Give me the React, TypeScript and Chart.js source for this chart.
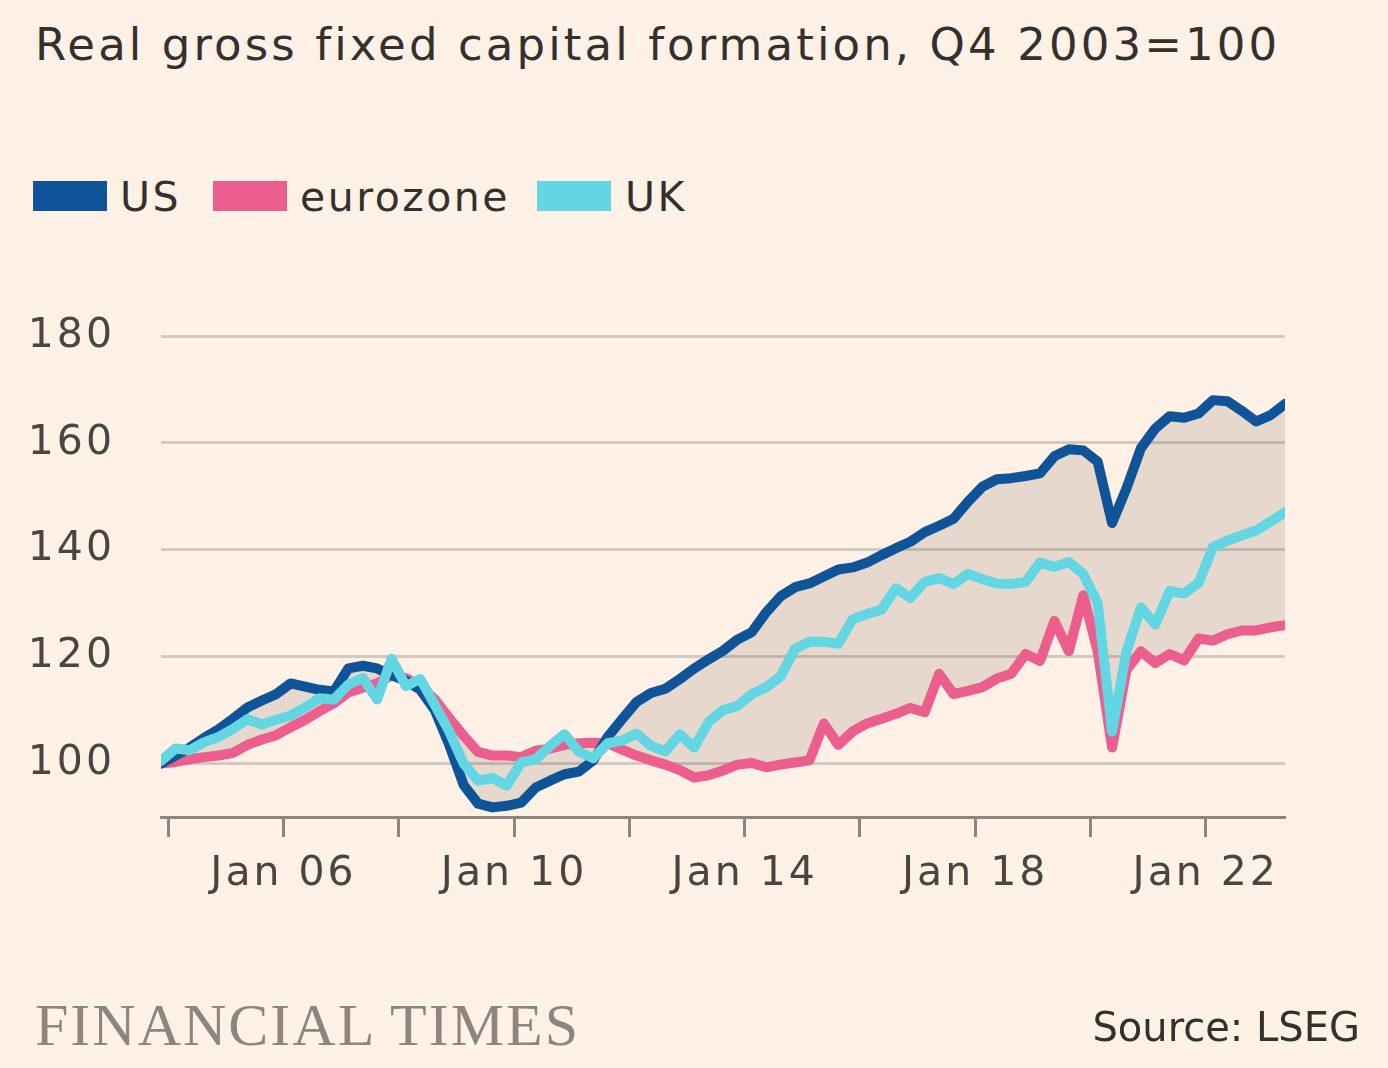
import React, { useEffect, useRef } from 'react';
import { Chart, registerables } from 'chart.js';

Chart.register(...registerables);

// ---- Data (quarterly, Q4 2003 = 100) ----
const firstYear = 2003;
const firstQuarter = 4;
const quarterCount = 79; // Q4 2003 .. Q2 2023

const usValues = [
  100, 101.5, 103, 104.8, 106.4, 108.4, 110.5, 111.8, 113, 115,
  114.4, 113.8, 113.5, 117.8, 118.3, 117.8, 116.5, 115.5, 113.8, 110,
  103.5, 96, 92.5, 91.8, 92.1, 92.7, 95.5, 96.8, 98, 98.5,
  100.6, 105, 108.3, 111.5, 113.2, 114, 115.8, 117.8, 119.5, 121.1,
  123.2, 124.6, 128.3, 131.3, 133, 133.7, 135, 136.3, 136.7, 137.6,
  139, 140.3, 141.5, 143.3, 144.5, 145.8, 149, 151.8, 153.2, 153.4,
  153.8, 154.3, 157.5, 158.8, 158.6, 156.5, 145, 151.5, 159, 162.7,
  165, 164.7, 165.5, 168, 167.8, 166, 164, 165.2, 167.3,
];

const eurozoneValues = [
  100, 100.3, 100.8, 101.2, 101.5, 102, 103.5, 104.5, 105.3, 106.8,
  108.2, 109.8, 111.3, 113.3, 114.2, 115, 116.5, 116, 114.5, 112,
  108.5, 105.2, 102.2, 101.5, 101.5, 101.2, 102.4, 102.8, 103.5, 103.8,
  103.9, 103.8, 102.6, 101.5, 100.6, 99.8, 98.8, 97.4, 97.8, 98.7,
  99.8, 100.1, 99.3, 99.8, 100.2, 100.6, 107.5, 103.5, 106, 107.5,
  108.4, 109.3, 110.4, 109.6, 116.8, 113, 113.6, 114.3, 115.9, 116.8,
  120.5, 119.2, 126.7, 121, 131.5, 121, 103, 117.5, 121, 118.8,
  120.5, 119.3, 123.4, 123, 124.2, 124.9, 124.9, 125.5, 125.9,
];

const ukValues = [
  100.5, 102.8, 102.5, 104, 105, 106.5, 108.3, 107.3, 108.2, 109,
  110.5, 112.2, 112, 114.8, 116, 112, 119.6, 114.5, 115.8, 111,
  106, 100, 96.8, 97.3, 95.9, 100.2, 100.8, 103.3, 105.5, 102.2,
  101, 103.8, 104.3, 105.6, 103.3, 102.3, 105.5, 103, 107.8, 110,
  110.8, 113, 114.3, 116.3, 121.5, 122.8, 122.8, 122.4, 127, 128,
  128.8, 132.8, 131, 134, 134.7, 133.6, 135.5, 134.5, 133.7, 133.6,
  134, 137.6, 136.8, 137.7, 135.5, 130, 106, 121, 129.2, 126,
  132.3, 131.8, 133.8, 140.5, 141.7, 142.7, 143.6, 145.3, 147,
];

const seriesNames = ['US', 'eurozone', 'UK'];
const xTickYears = [2004, 2006, 2008, 2010, 2012, 2014, 2016, 2018, 2020, 2022];
const xLabelYears = [2006, 2010, 2014, 2018, 2022];
const yTicks = [100, 120, 140, 160, 180];
const yMin = 90;
const yMax = 180;

// quarter -> decimal year at mid-quarter
const quarterPositions: number[] = [];
for (let k = 0; k < quarterCount; k++) {
  const qIndex = firstQuarter - 1 + k;
  const year = firstYear + Math.floor(qIndex / 4);
  const q = qIndex % 4;
  quarterPositions.push(year + q * 0.25 + 0.125);
}

// ---- Styles ----
const BG = '#FFF1E5';
const US_C = '#0F5499';
const EZ_C = '#EB5E8D';
const UK_C = '#62D6E2';
const SHADE = 'rgba(102, 90, 80, 0.16)';
const GRID_C = '#D3C9BF';
const AXIS_C = '#8C857F';
const TEXT_C = '#33302E';
const TICK_C = '#4A4542';
const FONT = '"DejaVu Sans", "Open Sans", sans-serif';

const W = 1388;
const H = 1068;

export default function App() {
  const ref = useRef<HTMLCanvasElement>(null);

  useEffect(() => {
    document.body.style.margin = '0';
    document.body.style.background = BG;
    const canvas = ref.current;
    if (!canvas) return;
    const pts = (vals: number[]) => vals.map((v, i) => ({ x: quarterPositions[i], y: v }));

    const spacingPlugin = {
      id: 'letterSpacing',
      beforeDraw(chart: any) {
        try { chart.ctx.letterSpacing = '3px'; } catch (e) { /* ignore */ }
      },
    };

    const lineStyle = {
      borderWidth: 10,
      pointRadius: 0,
      tension: 0,
      borderJoinStyle: 'round',
      borderCapStyle: 'round',
    };

    const chart = new Chart(canvas, {
      type: 'line',
      data: {
        datasets: [
          {
            label: seriesNames[0],
            data: pts(usValues),
            borderColor: US_C,
            backgroundColor: US_C,
            ...lineStyle,
            fill: { target: 1, above: SHADE, below: SHADE },
            order: 1,
          },
          {
            label: seriesNames[1],
            data: pts(eurozoneValues),
            borderColor: EZ_C,
            backgroundColor: EZ_C,
            ...lineStyle,
            fill: false,
            order: 2,
          },
          {
            label: seriesNames[2],
            data: pts(ukValues),
            borderColor: UK_C,
            backgroundColor: UK_C,
            ...lineStyle,
            fill: false,
            order: 0,
          },
        ],
      } as any,
      options: {
        animation: false,
        responsive: false,
        maintainAspectRatio: false,
        layout: { padding: { left: 0, right: 103, top: 336, bottom: 0 } },
        plugins: {
          legend: { display: false },
          tooltip: { enabled: false },
          title: { display: false },
          filler: { drawTime: 'beforeDatasetsDraw' },
        } as any,
        scales: {
          x: {
            type: 'linear',
            min: quarterPositions[0],
            max: quarterPositions[quarterPositions.length - 1],
            afterBuildTicks: (s: any) => {
              s.ticks = xTickYears.map((v) => ({ value: v }));
            },
            afterFit: (s: any) => {
              s.height = H - 817;
            },
            grid: {
              drawOnChartArea: false,
              drawTicks: true,
              tickLength: 20,
              tickWidth: 3,
              tickColor: AXIS_C,
            },
            border: { display: true, color: AXIS_C, width: 3 },
            ticks: {
              autoSkip: false,
              maxRotation: 0,
              minRotation: 0,
              padding: 13,
              color: TICK_C,
              font: { family: FONT, size: 41 },
              callback: (v: any) =>
                xLabelYears.includes(Number(v)) ? 'Jan ' + String(v).slice(2) : '',
            },
          },
          y: {
            type: 'linear',
            min: yMin,
            max: yMax,
            afterBuildTicks: (s: any) => {
              s.ticks = yTicks.map((v) => ({ value: v }));
            },
            afterFit: (s: any) => {
              s.width = 161;
            },
            grid: { color: GRID_C, lineWidth: 3, drawTicks: false },
            border: { display: false },
            ticks: {
              padding: 46,
              color: TICK_C,
              font: { family: FONT, size: 41 },
            },
          },
        },
      } as any,
      plugins: [spacingPlugin],
    });
    return () => chart.destroy();
  }, []);

  const legendItems = [
    { name: seriesNames[0], color: US_C, sw: 33, tx: 120 },
    { name: seriesNames[1], color: EZ_C, sw: 213, tx: 300 },
    { name: seriesNames[2], color: UK_C, sw: 537, tx: 625 },
  ];

  return (
    <div style={{ position: 'relative', width: W, height: H, background: BG, overflow: 'hidden', fontFamily: FONT }}>
      <div
        style={{
          position: 'absolute', left: 35, top: 22, fontSize: 45, lineHeight: 1,
          color: TEXT_C, whiteSpace: 'nowrap', letterSpacing: '3.1px',
        }}
      >
        Real gross fixed capital formation, Q4 2003=100
      </div>
      {legendItems.map((it) => (
        <React.Fragment key={it.name}>
          <div style={{ position: 'absolute', left: it.sw, top: 181, width: 74, height: 30, background: it.color }} />
          <div
            style={{
              position: 'absolute', left: it.tx, top: 177, fontSize: 41, lineHeight: 1,
              color: TEXT_C, whiteSpace: 'nowrap', letterSpacing: '2.5px',
            }}
          >
            {it.name}
          </div>
        </React.Fragment>
      ))}
      <canvas ref={ref} width={W} height={H} style={{ position: 'absolute', left: 0, top: 0, width: W, height: H }} />
      <div
        style={{
          position: 'absolute', left: 35, top: 995, fontSize: 60, lineHeight: 1,
          fontFamily: '"Liberation Serif", "DejaVu Serif", serif', color: '#8C8580',
          whiteSpace: 'nowrap', letterSpacing: '2px',
        }}
      >
        FINANCIAL TIMES
      </div>
      <div
        style={{
          position: 'absolute', right: 28, top: 1007, fontSize: 40, lineHeight: 1,
          color: TEXT_C, whiteSpace: 'nowrap', letterSpacing: '0px',
        }}
      >
        Source: LSEG
      </div>
    </div>
  );
}
